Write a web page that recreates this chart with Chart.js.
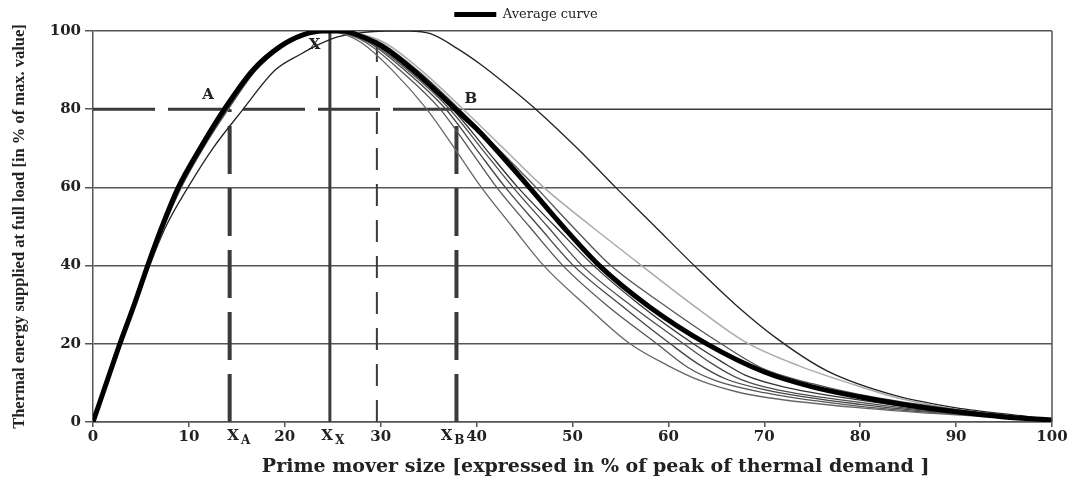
<!DOCTYPE html>
<html>
<head>
<meta charset="utf-8">
<title>Prime mover size vs thermal energy supplied</title>
<script src="https://cdn.jsdelivr.net/npm/chart.js@4.4.1/dist/chart.umd.min.js"></script>
<style>
  html, body { margin: 0; padding: 0; background: #fff; }
  #wrap { width: 1071px; height: 481px; }
</style>
</head>
<body>
<div id="wrap"><canvas id="chart"></canvas></div>
<script>
// average curve (thick)
const avgX = [0, 1.4, 2.8, 4.3, 5.7, 7.2, 8.9, 11.3, 13.7, 16.7, 19.5, 21.9, 24, 26, 28, 30.2, 33.4, 37.8, 40.4, 43, 45.5, 49, 52.8, 58, 64, 70, 75, 80, 85, 90, 95, 100];
const avgY = [0, 10, 20, 30, 40, 50, 60, 70.5, 80, 90, 96, 99, 100, 100, 98.6, 96, 90, 80, 74, 67, 60, 50, 40, 29.5, 20, 12.8, 9, 6.4, 4.3, 2.6, 1.3, 0.5];

// individual curves
const c1X = [0, 2.7, 5.6, 7.1, 8.8, 11.1, 13.5, 16.4, 19.2, 21.6, 23.6, 25.6, 28, 31.2, 34.8, 37.7, 40.5, 43.7, 47, 51.3, 56, 59.9, 63.4, 67, 70.4, 80, 90, 100];
const c1Y = [0, 20, 40, 50, 60, 70.5, 80, 90, 96, 99, 100, 99.6, 97, 90, 80, 70, 60, 50, 40, 30, 20, 14.5, 10.5, 7.8, 6.2, 3.6, 1.8, 0.5];
const c2X = [0, 2.8, 5.7, 7.2, 8.9, 11.3, 13.7, 16.6, 19.4, 21.8, 23.9, 26, 28.5, 32, 36.2, 39.2, 42.1, 45.5, 49, 53.5, 58.8, 62, 65, 70, 80, 90, 100];
const c2Y = [0, 20, 40, 50, 60, 70.5, 80, 90, 96, 99, 100, 99.5, 97, 90, 80, 70, 60, 50, 40, 30, 20, 14, 10.5, 7.5, 4, 2, 0.5];
const c3X = [0, 2.8, 5.75, 7.2, 9, 11.4, 13.8, 16.7, 19.5, 21.9, 24, 26.2, 28.8, 32.5, 36.8, 39.9, 43, 46.5, 50.1, 55, 60.2, 63, 66, 70, 80, 90, 100];
const c3Y = [0, 20, 40, 50, 60, 70.5, 80, 90, 96, 99, 100, 99.5, 97, 90, 80, 70, 60, 50, 40, 30, 20, 15, 11, 8.3, 4.5, 2.1, 0.5];
const c4X = [0, 2.9, 5.8, 7.3, 9.1, 11.5, 14, 16.9, 19.7, 22.1, 24.3, 26.5, 29, 32.8, 37.2, 40.5, 43.8, 47.4, 51, 56, 61.6, 64.5, 67, 70, 80, 90, 100];
const c4Y = [0, 20, 40, 50, 60, 70.5, 80, 90, 96, 99, 100, 99.5, 97, 90, 80, 70, 60, 50, 40, 30, 20, 15, 11.5, 9, 5, 2.2, 0.5];
const c5X = [0, 2.7, 5.65, 7.1, 8.8, 11.2, 13.6, 16.6, 19.4, 21.8, 24, 26.3, 29.2, 33, 37.5, 40.9, 44.3, 48.2, 52.2, 57, 62.6, 65.5, 68, 72, 80, 90, 100];
const c5Y = [0, 20, 40, 50, 60, 70.5, 80, 90, 96, 99, 100, 99.6, 97, 90, 80, 70, 60, 50, 40, 30, 20, 15.5, 12, 9, 5.6, 2.4, 0.5];
const c6X = [0, 2.9, 5.9, 7.4, 9.2, 11.6, 14.1, 17, 19.8, 22.3, 24.6, 27, 30, 33.8, 38.2, 42.2, 46.2, 50, 54, 59.5, 65.5, 70, 75, 80, 90, 100];
const c6Y = [0, 20, 40, 50, 60, 70.5, 80, 90, 96, 99, 100, 99.6, 97, 90, 80, 70, 60, 50, 40, 30, 20, 13.5, 9.8, 7, 3.2, 0.6];
const greyX = [0, 2.9, 5.9, 7.4, 9.2, 11.6, 14.1, 17, 19.8, 22.3, 24.7, 27.2, 30.4, 34.2, 38.6, 42.8, 47, 52, 57.2, 62.5, 68, 73.7, 79.3, 84.2, 90, 95, 100];
const greyY = [0, 20, 40, 50, 60, 70.5, 80, 90, 96, 99, 100, 99.6, 97, 90, 80, 70, 60, 50, 40, 30, 20.5, 14.3, 9.6, 6, 3.2, 1.6, 0.5];
const lateX = [0, 2.9, 5.9, 7.6, 9.9, 12.5, 15.5, 19, 21.6, 23.5, 25.5, 28, 30.5, 33, 35.2, 38, 40.4, 43, 46.4, 50.5, 54.5, 58.6, 62.7, 67, 71.5, 76.6, 83.6, 90.6, 96.8, 100];
const lateY = [0, 20, 40, 50, 60, 70, 79.5, 90, 94, 96.5, 98.5, 99.6, 100, 100, 99.3, 95.5, 91.5, 86.5, 79.5, 70, 60, 50, 40, 30, 21, 13, 6.8, 3.4, 1.6, 0.5];

// reference points A, X, B on the average curve
const level = 80;
const xA = 14.25, xX = 24.7, xMid = 29.6, xB = 37.9;
const pointNames = ['A', 'X', 'B'];
const pointX = [12.0, 23.1, 39.4];
const pointY = [83.5, 96.5, 82.7];
const subNames = ['A', 'X', 'B'];
const subX = [15.2, 25.0, 37.5];

function pts(xs, ys) {
  return xs.map((v, i) => ({ x: v, y: ys[i] }));
}

function curve(label, xs, ys, color, width) {
  return {
    label: label,
    data: pts(xs, ys),
    borderColor: color,
    backgroundColor: color,
    borderWidth: width,
    pointRadius: 0,
    cubicInterpolationMode: 'monotone',
    fill: false
  };
}

function guide(xs, ys, width, dash) {
  return {
    label: '',
    data: pts(xs, ys),
    borderColor: '#3a3a3a',
    borderWidth: width,
    borderDash: dash,
    pointRadius: 0,
    tension: 0,
    fill: false
  };
}

const avg = curve('Average curve', avgX, avgY, '#000', 5);
avg.pointStyle = 'line';

const datasets = [
  avg,
  curve('Case 1', c1X, c1Y, '#666', 1.3),
  curve('Case 2', c2X, c2Y, '#555', 1.3),
  curve('Case 3', c3X, c3Y, '#444', 1.3),
  curve('Case 4', c4X, c4Y, '#4d4d4d', 1.3),
  curve('Case 5', c5X, c5Y, '#333', 1.3),
  curve('Case 6', c6X, c6Y, '#555', 1.3),
  curve('Case 7', greyX, greyY, '#aaa', 1.5),
  curve('Case 8', lateX, lateY, '#222', 1.3),
  guide([0, xB], [level, level], 3, [62, 13]),
  guide([xB, 100], [level, level], 1.5, []),
  guide([xA, xA], [0, level], 4, [48, 14]),
  guide([xX, xX], [0, 100], 3, []),
  guide([xMid, xMid], [0, 100], 2, [22, 14]),
  guide([xB, xB], [0, level], 4, [48, 14])
];

const annotate = {
  id: 'annotate',
  afterDraw(chart) {
    const { ctx, chartArea, scales: { x, y } } = chart;
    ctx.save();
    // right edge of the frame
    ctx.strokeStyle = '#555';
    ctx.lineWidth = 1.5;
    ctx.beginPath();
    ctx.moveTo(chartArea.right, chartArea.top);
    ctx.lineTo(chartArea.right, chartArea.bottom);
    ctx.stroke();

    ctx.fillStyle = '#222';
    ctx.textBaseline = 'middle';
    ctx.textAlign = 'center';
    ctx.font = 'bold 15px "DejaVu Serif"';
    pointNames.forEach((t, i) => {
      ctx.fillText(t, x.getPixelForValue(pointX[i]), y.getPixelForValue(pointY[i]));
    });

    // X_A, X_X, X_B under the axis
    ctx.textAlign = 'left';
    subNames.forEach((s, i) => {
      const py = chartArea.bottom + 14;
      ctx.font = 'bold 15px "DejaVu Serif"';
      const w1 = ctx.measureText('X').width;
      ctx.font = 'bold 12px "DejaVu Serif"';
      const w2 = ctx.measureText(s).width;
      const left = x.getPixelForValue(subX[i]) - (w1 + w2 + 2) / 2;
      ctx.font = 'bold 15px "DejaVu Serif"';
      ctx.fillText('X', left, py);
      ctx.font = 'bold 12px "DejaVu Serif"';
      ctx.fillText(s, left + w1 + 2, py + 5);
    });
    ctx.restore();
  }
};

new Chart(document.getElementById('chart'), {
  type: 'line',
  data: { datasets: datasets },
  options: {
    responsive: true,
    maintainAspectRatio: false,
    animation: false,
    layout: { padding: { top: 0, right: 19, bottom: 0, left: 0 } },
    scales: {
      x: {
        type: 'linear',
        min: 0,
        max: 100,
        afterFit: (scale) => { scale.height = 59; },
        ticks: {
          stepSize: 10,
          padding: 1,
          color: '#222',
          font: { family: 'DejaVu Serif', size: 15, weight: 'bold' }
        },
        grid: {
          drawOnChartArea: false,
          drawTicks: true,
          tickLength: 5,
          color: '#555',
          lineWidth: 1.5
        },
        border: { color: '#555', width: 1.5 },
        title: {
          display: true,
          text: '       Prime mover size [expressed in % of peak of thermal demand ]',
          color: '#222',
          padding: { top: 0, bottom: 3 },
          font: { family: 'DejaVu Serif', size: 19, weight: 'bold' }
        }
      },
      y: {
        min: 0,
        max: 100,
        afterFit: (scale) => { scale.width = 93; },
        ticks: {
          stepSize: 20,
          padding: 4,
          color: '#222',
          font: { family: 'DejaVu Serif', size: 15, weight: 'bold' }
        },
        grid: {
          color: (c) => (c.tick && c.tick.value === level ? 'rgba(0,0,0,0)' : '#555'),
          tickColor: '#555',
          lineWidth: 1.5,
          tickLength: 8
        },
        border: { color: '#555', width: 1.5 },
        title: {
          display: true,
          text: 'Thermal energy supplied at full load [in % of max. value]',
          color: '#222',
          padding: { top: 10, bottom: 0 },
          font: { family: 'Liberation Serif', size: 16.5, weight: 'bold' }
        }
      }
    },
    plugins: {
      legend: {
        display: true,
        position: 'top',
        labels: {
          filter: (item) => item.datasetIndex === 0,
          usePointStyle: true,
          pointStyleWidth: 42,
          padding: 8,
          color: '#222',
          font: { family: 'DejaVu Serif', size: 13 }
        }
      },
      tooltip: { enabled: false }
    }
  },
  plugins: [annotate]
});
</script>
</body>
</html>
